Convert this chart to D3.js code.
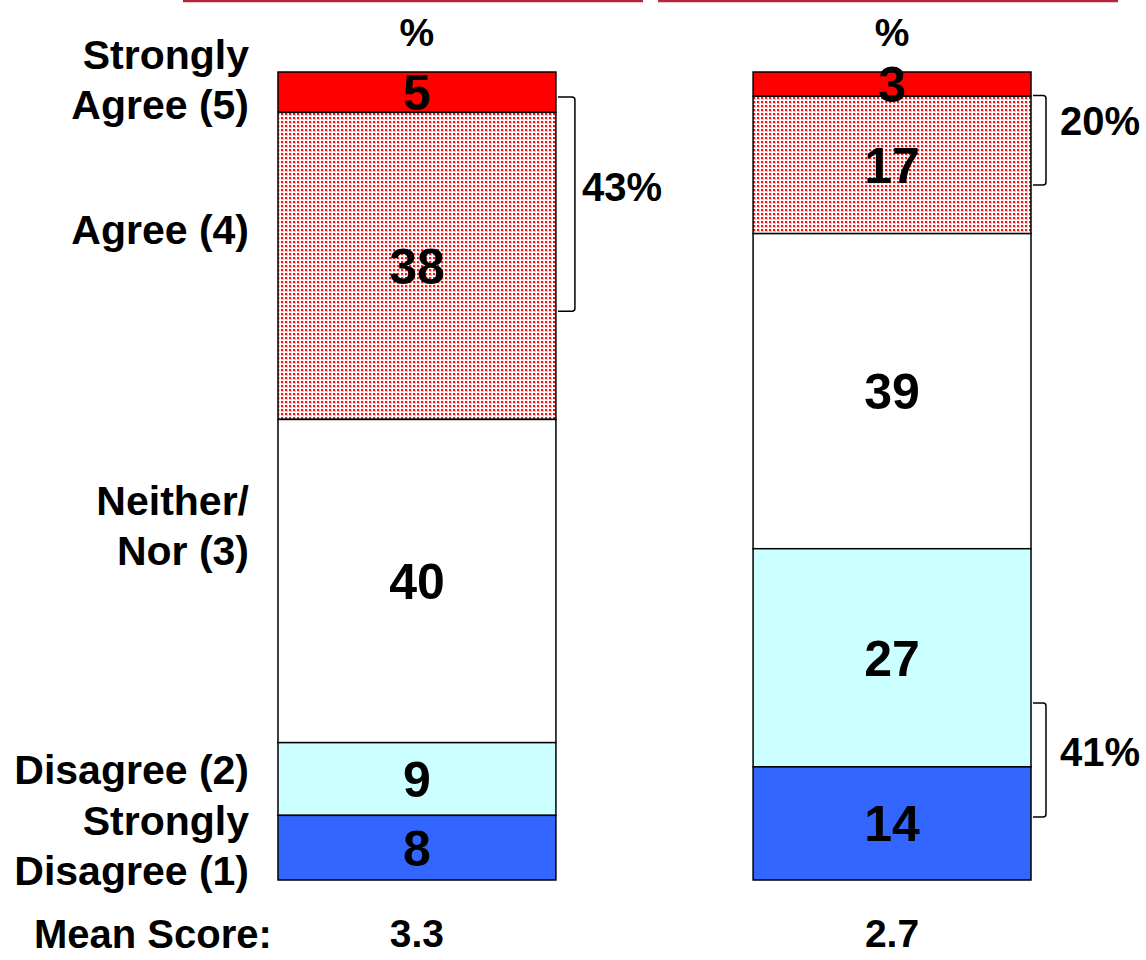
<!DOCTYPE html>
<html>
<head>
<meta charset="utf-8">
<script src="https://cdn.jsdelivr.net/npm/d3@7"></script>
<style>
  body { margin: 0; background: #fff; }
  text { font-family: "Liberation Sans", Arial, sans-serif; font-weight: bold; fill: #000; }
</style>
</head>
<body>
<div id="chart"></div>
<script>
/* DATA */
const groups = ['A', 'B'];
const categories = ['Strongly Agree (5)', 'Agree (4)', 'Neither/Nor (3)', 'Disagree (2)', 'Strongly Disagree (1)'];
const valuesA = [5, 38, 40, 9, 8];
const valuesB = [3, 17, 39, 27, 14];
const meanScores = ['3.3', '2.7'];
// net brackets: group, start %, end % (measured from the top of the bar), label
const nets = [
	{ group: 'A', from: 3.1, to: 29.6, label: '43%' },
	{ group: 'B', from: 2.9, to: 14.0, label: '20%' },
	{ group: 'B', from: 78.1, to: 92.2, label: '41%' }
];

/* BASIC SETUP */
const width = 1146;
const height = 960;
const barTop = 72;
const barBottom = 880;

const svg = d3.select('#chart').append('svg').attr('width', width).attr('height', height);

const fills = ['#ff0000', 'url(#dots)', '#ffffff', '#ccffff', '#3366ff'];

// dotted fill for the "Agree" segment
const defs = svg.append('defs');
const pat = defs.append('pattern')
	.attr('id', 'dots')
	.attr('patternUnits', 'userSpaceOnUse')
	.attr('width', 4)
	.attr('height', 4);
pat.append('rect').attr('width', 4).attr('height', 4).attr('fill', '#fff');
pat.append('rect')
	.attr('x', 1).attr('y', 1)
	.attr('width', 3).attr('height', 3)
	.attr('fill', '#ffc4c4')
	.attr('shape-rendering', 'crispEdges');
pat.append('rect')
	.attr('x', 1).attr('y', 1)
	.attr('width', 2).attr('height', 2)
	.attr('fill', '#ff1010')
	.attr('shape-rendering', 'crispEdges');

/* SCALES */
const xScale = d3.scaleBand().domain(groups).range([278, 1031]).paddingInner(0.415);
const yScale = d3.scaleLinear().domain([0, 100]).range([barTop, barBottom]);

/* STACK DATA */
const series = { A: valuesA, B: valuesB };
const segs = [];
groups.forEach(function(g) {
	let acc = 0;
	series[g].forEach(function(v, i) {
		segs.push({ group: g, cat: categories[i], i: i, value: v, y0: acc, y1: acc + v });
		acc += v;
	});
});

const center = (g) => xScale(g) + xScale.bandwidth() / 2;

/* HEADER LINES */
svg.selectAll('.headLine')
	.data(groups)
	.enter()
	.append('line')
	.attr('x1', (d) => center(d) - 234)
	.attr('x2', (d) => center(d) + 226)
	.attr('y1', 1)
	.attr('y2', 1)
	.attr('stroke', '#b2283a')
	.attr('stroke-width', 2.5);

svg.selectAll('.pct')
	.data(groups)
	.enter()
	.append('text')
	.attr('x', (d) => center(d))
	.attr('y', 32)
	.attr('dy', '0.36em')
	.attr('text-anchor', 'middle')
	.style('font-size', '39px')
	.text('%');

/* BARS */
svg.selectAll('.seg')
	.data(segs)
	.enter()
	.append('rect')
	.attr('x', (d) => xScale(d.group))
	.attr('y', (d) => yScale(d.y0))
	.attr('width', xScale.bandwidth())
	.attr('height', (d) => yScale(d.y1) - yScale(d.y0))
	.attr('fill', (d) => fills[d.i])
	.attr('stroke', '#000')
	.attr('stroke-width', 1.5);

svg.selectAll('.segLabel')
	.data(segs)
	.enter()
	.append('text')
	.attr('x', (d) => center(d.group))
	.attr('y', (d) => yScale((d.y0 + d.y1) / 2))
	.attr('dy', '0.36em')
	.attr('text-anchor', 'middle')
	.style('font-size', '50px')
	.text((d) => d.value);

/* NET BRACKETS */
nets.forEach(function(n) {
	const xb = xScale(n.group) + xScale.bandwidth();
	const y0 = yScale(n.from);
	const y1 = yScale(n.to);
	const w = n.group === 'A' ? 19 : 15;
	const r = 3;
	svg.append('path')
		.attr('d', `M${xb + 2},${y0} H${xb + w - r} Q${xb + w},${y0} ${xb + w},${y0 + r} V${y1 - r} Q${xb + w},${y1} ${xb + w - r},${y1} H${xb + 2}`)
		.attr('fill', 'none')
		.attr('stroke', '#000')
		.attr('stroke-width', 1.5);
	let ly, lx;
	if (n.group === 'A') {
		ly = (y0 + y1) / 2 - 18;
		lx = xb + w + 7;
	} else {
		ly = n.from < 50 ? (y0 + y1) / 2 - 20 : (y0 + y1) / 2 - 8;
		lx = xb + w + 14;
	}
	svg.append('text')
		.attr('x', lx)
		.attr('y', ly)
		.attr('dy', '0.36em')
		.style('font-size', '40px')
		.text(n.label);
});

/* CATEGORY LABELS */
const labelLines = [
	{ lines: ['Strongly', 'Agree (5)'], y: 79 },
	{ lines: ['Agree (4)'], y: 229 },
	{ lines: ['Neither/', 'Nor (3)'], y: 525 },
	{ lines: ['Disagree (2)'], y: 769 },
	{ lines: ['Strongly', 'Disagree (1)'], y: 845 }
];
labelLines.forEach(function(l) {
	const t = svg.append('text')
		.attr('text-anchor', 'end')
		.style('font-size', '41px');
	l.lines.forEach(function(s, j) {
		t.append('tspan')
			.attr('x', 249)
			.attr('y', l.y + (j - (l.lines.length - 1) / 2) * 50)
			.attr('dy', '0.36em')
			.text(s);
	});
});

/* MEAN SCORE */
svg.append('text')
	.attr('x', 34)
	.attr('y', 934)
	.attr('dy', '0.36em')
	.style('font-size', '40px')
	.text('Mean Score:');

svg.selectAll('.mean')
	.data(meanScores)
	.enter()
	.append('text')
	.attr('x', (d, i) => center(groups[i]))
	.attr('y', 933)
	.attr('dy', '0.36em')
	.attr('text-anchor', 'middle')
	.style('font-size', '39px')
	.text((d) => d);
</script>
</body>
</html>
